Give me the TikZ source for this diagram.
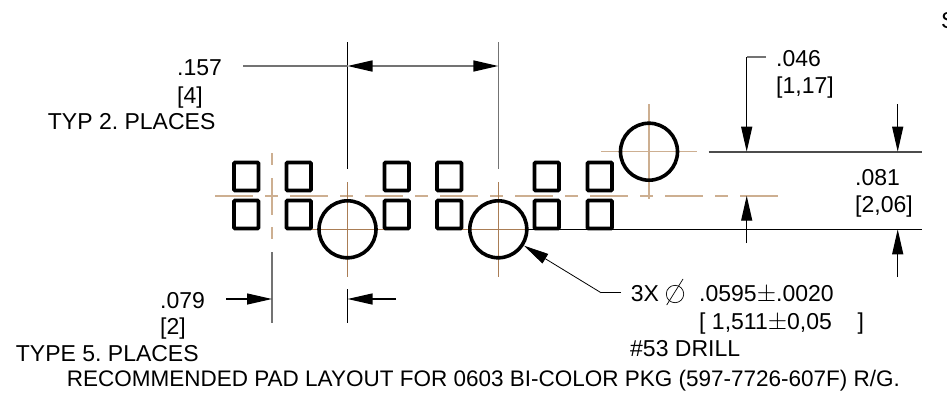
\documentclass[tikz,border=0pt]{standalone}
\usepackage{fontspec}
\setmainfont{Liberation Sans}
\usetikzlibrary{arrows.meta}
\definecolor{centerlight}{RGB}{205,175,145}
\definecolor{centerdark}{RGB}{170,125,85}
\tikzset{
	txt/.style={anchor=base west, inner sep=0pt, font=\fontsize{23}{26}\selectfont\frenchspacing},
	pad/.style={line width=3.6pt, rounded corners=1pt},
	hole/.style={line width=3.6pt},
	ext/.style={line width=1.2pt},
	extgray/.style={line width=1.6pt, black!55},
	tip/.style={-{Triangle[length=25pt,width=11pt,color=black]}},
	tips/.style={{Triangle[length=25pt,width=11pt,color=black]}-{Triangle[length=25pt,width=11pt,color=black]}},
	centerline/.style={centerlight, line width=1.5pt},
	centerthin/.style={centerdark, line width=1pt},
	chain/.style={centerline, dash pattern=on 38pt off 12pt on 13pt off 12pt}
}
\begin{document}
\begin{tikzpicture}[x=1pt,y=-1pt]
	\useasboundingbox (0,0) rectangle (947,402);

% CENTER LINES

	\draw[chain] (215,196) -- (782,196);
	\draw[centerline, dash pattern=on 12pt off 13pt on 37pt off 12pt] (272,153) -- (272,239);
	\draw[centerthin] (347.5,182) -- (347.5,277);
	\draw[centerthin] (310,229.3) -- (385,229.3);
	\draw[centerthin] (498.3,182) -- (498.3,277);
	\draw[centerthin] (460,229.3) -- (536,229.3);
	\draw[centerline] (649,104) -- (649,199);
	\draw[centerline] (601,151.7) -- (697,151.7);

% PADS

	\foreach \px in {234,286.5,384.5,437,534.5,587.5} {
		\draw[pad] (\px,162.5) rectangle ++(24.5,28);
		\draw[pad] (\px,200.5) rectangle ++(24.5,28);
	}

% HOLES

	\draw[hole] (347.5,229.3) circle (28.5);
	\draw[hole] (498.3,229.3) circle (28.5);
	\draw[hole] (649,151.7) circle (28.5);

% EXTENSION LINES

	\draw[ext] (347.5,42) -- (347.5,169);
	\draw[ext] (347.5,289) -- (347.5,323);
	\draw[extgray] (498.3,42) -- (498.3,169);
	\draw[extgray] (272,252) -- (272,323);
	\draw[extgray, black!70] (708.7,151.7) -- (921.7,151.7);
	\draw[ext] (527,229.3) -- (921.7,229.3);

% DIMENSIONS

	% .157
	\draw[extgray] (243,66) -- (347.5,66);
	\draw[extgray, tips] (347.5,66) -- (498.3,66);

	% .079
	\draw[ext, tip] (226,299) -- (272,299);
	\draw[ext, tip] (396,299) -- (347.5,299);

	% .046
	\draw[extgray] (766,57) -- (746.7,57);
	\draw[ext, tip] (746.7,57) -- (746.7,151.7);
	\draw[ext, tip] (897.7,104) -- (897.7,151.7);

	% .081
	\draw[ext, tip] (746.7,243) -- (746.7,195.7);
	\draw[ext, tip] (897.7,277) -- (897.7,229.3);

	% hole callout
	\draw[line width=0.8pt] (621,292.7) -- (601,292.7);
	\draw[line width=0.8pt, tip] (601,292.7) -- (524,245.7);

	% diameter sign
	\draw[line width=0.7pt] (675,294) circle (8.7);
	\draw[line width=0.7pt] (666.7,305) -- (683,279);

% NOTATION

	\node[txt] (sheet) at (941,28) {S};
	\node[txt] (dimA) at (177,75) {.157};
	\node[txt] (dimAmm) at (177,103) {[4]};
	\node[txt] (dimAnote) at (47.7,129) {TYP 2. PLACES};
	\node[txt] (dimB) at (776,66) {.046};
	\node[txt] (dimBmm) at (776,93) {[1,17]};
	\node[txt] (dimC) at (855,185.7) {.081};
	\node[txt] (dimCmm) at (855,212.7) {[2,06]};
	\node[txt] (dimD) at (160,308) {.079};
	\node[txt] (dimDmm) at (160,334) {[2]};
	\node[txt] (dimDnote) at (15.7,361.7) {TYPE 5. PLACES};
	\node[txt] (holeqty) at (630.7,301.7) {3X};
	\node[txt] (holedia) at (699,301.7) {.0595$\pm$.0020};
	\node[txt] (holemm) at (699,329.3) {[ 1,511$\pm$0,05~~~~]};
	\node[txt] (holedrill) at (630,356) {\#53 DRILL};
	\node[txt, font=\fontsize{22.5}{26}\selectfont\frenchspacing] (caption) at (66.7,386) {RECOMMENDED PAD LAYOUT FOR 0603 BI-COLOR PKG (597-7726-607F) R/G.};

\end{tikzpicture}
\end{document}
